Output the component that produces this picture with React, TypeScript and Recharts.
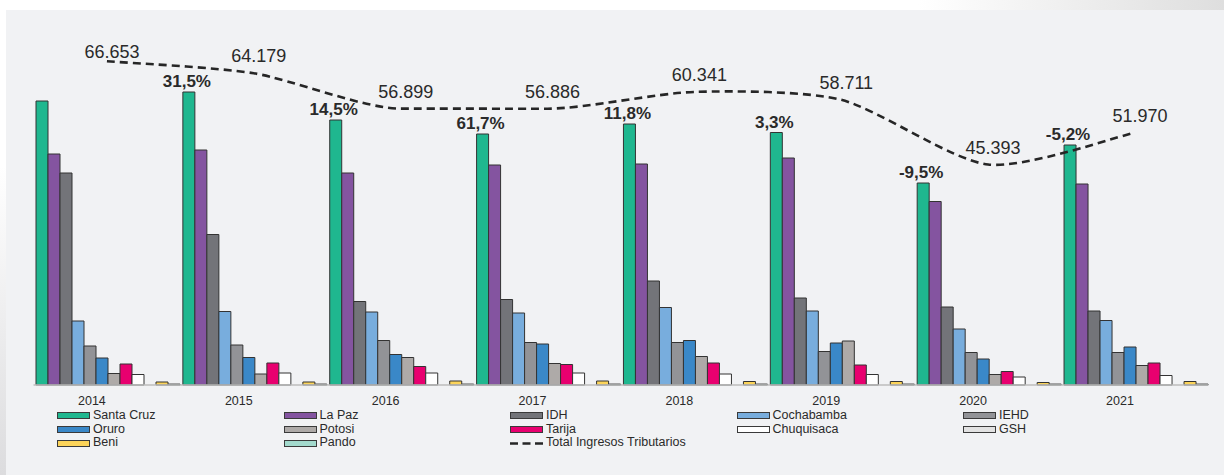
import { Bar, ComposedChart, LabelList, Line, XAxis, YAxis } from "recharts";

// Values. Bars are in an arbitrary unit on their own
// (hidden) axis; the total line has its own axis.
const YEARS = ["2014", "2015", "2016", "2017", "2018", "2019", "2020", "2021"];
const SANTA_CRUZ = [28400, 29300, 26500, 25100, 26100, 25250, 20200, 24000];
const LA_PAZ = [23100, 23500, 21200, 22000, 22100, 22700, 18350, 20100];
const IDH = [21200, 15050, 8350, 8550, 10400, 8700, 7800, 7400];
const COCHABAMBA = [6400, 7350, 7300, 7200, 7750, 7400, 5600, 6450];
const IEHD = [3900, 4000, 4450, 4250, 4250, 3350, 3250, 3250];
const ORURO = [2700, 2750, 3050, 4100, 4450, 4200, 2600, 3800];
const POTOSI = [1150, 1100, 2750, 2150, 2850, 4400, 1050, 1950];
const TARIJA = [2100, 2200, 1850, 2050, 2200, 2000, 1350, 2200];
const CHUQUISACA = [1050, 1200, 1200, 1200, 1100, 1050, 800, 950];
const GSH = [0, 0, 0, 0, 0, 0, 0, 0];
const BENI = [300, 300, 400, 400, 350, 350, 250, 350];
const PANDO = [90, 90, 90, 90, 90, 90, 90, 90];
const TOTAL = [66653, 64179, 56899, 56886, 60341, 58711, 45393, 51970];
const PCT = ["", "31,5%", "14,5%", "61,7%", "11,8%", "3,3%", "-9,5%", "-5,2%"];

const SERIES = [
  { key: "santaCruz", name: "Santa Cruz", color: "#1fb78f", values: SANTA_CRUZ },
  { key: "laPaz", name: "La Paz", color: "#8454a0", values: LA_PAZ },
  { key: "idh", name: "IDH", color: "#737479", values: IDH },
  { key: "cochabamba", name: "Cochabamba", color: "#78addd", values: COCHABAMBA },
  { key: "iehd", name: "IEHD", color: "#929397", values: IEHD },
  { key: "oruro", name: "Oruro", color: "#3a88c8", values: ORURO },
  { key: "potosi", name: "Potosi", color: "#aeaaa8", values: POTOSI },
  { key: "tarija", name: "Tarija", color: "#e8006f", values: TARIJA },
  { key: "chuquisaca", name: "Chuquisaca", color: "#ffffff", values: CHUQUISACA },
  { key: "gsh", name: "GSH", color: "#e2e2e2", values: GSH },
  { key: "beni", name: "Beni", color: "#fcd459", values: BENI },
  { key: "pando", name: "Pando", color: "#a3dacd", values: PANDO },
];

const data = YEARS.map((year, i) => {
  const row: Record<string, string | number> = {
    year,
    total: TOTAL[i],
    pct: PCT[i],
  };
  SERIES.forEach((s) => {
    row[s.key] = s.values[i];
  });
  return row;
});

const FONT = "'Liberation Sans', Arial, sans-serif";
const TEXT = "#2a2a2a";

const fmtThousands = (v: number) =>
  String(v).replace(/\B(?=(\d{3})+(?!\d))/g, ".");

// Lightly smoothed line: short Catmull-Rom tangents, flattened next to flat
// stretches so it doesn't overshoot there.
function lightSmooth(context: any) {
  let pts: number[][] = [];
  const tangent = (i: number) => {
    const p0 = pts[i - 1] || pts[i];
    const p1 = pts[i];
    const p2 = pts[i + 1] || pts[i];
    const tx = (p2[0] - p0[0]) / 8;
    let ty = (p2[1] - p0[1]) / 8;
    if (pts[i - 1] && pts[i + 1]) {
      const a = p1[1] - p0[1];
      const b = p2[1] - p1[1];
      if (Math.abs(a) < 2 || Math.abs(b) < 2) ty = 0;
    }
    return [tx, ty];
  };
  return {
    areaStart() {},
    areaEnd() {},
    lineStart() {
      pts = [];
    },
    point(x: number, y: number) {
      pts.push([+x, +y]);
    },
    lineEnd() {
      if (!pts.length) return;
      context.moveTo(pts[0][0], pts[0][1]);
      for (let i = 0; i < pts.length - 1; i++) {
        const t1 = tangent(i);
        const t2 = tangent(i + 1);
        context.bezierCurveTo(
          pts[i][0] + t1[0],
          pts[i][1] + t1[1],
          pts[i + 1][0] - t2[0],
          pts[i + 1][1] - t2[1],
          pts[i + 1][0],
          pts[i + 1][1]
        );
      }
    },
  };
}

function YearTick(props: any) {
  const { x, y, payload } = props;
  return (
    <text
      x={x - 15}
      y={y + 12}
      textAnchor="middle"
      fontSize={12.5}
      fontFamily={FONT}
      fill={TEXT}
    >
      {payload.value}
    </text>
  );
}

function PctLabel(props: any) {
  const { x, y, width, value } = props;
  if (!value) return null;
  return (
    <text
      x={x + width / 2 - 2}
      y={y - 5}
      textAnchor="middle"
      fontSize={17}
      fontWeight="bold"
      fontFamily={FONT}
      fill={TEXT}
    >
      {value}
    </text>
  );
}

function TotalLabel(props: any) {
  const { x, y, value, index } = props;
  // the first label sits a little closer to the line in the original
  const lift = index === 0 ? 3 : 11;
  return (
    <text
      x={x + 5}
      y={y - lift}
      textAnchor="middle"
      fontSize={18}
      fontFamily={FONT}
      fill={TEXT}
    >
      {fmtThousands(value)}
    </text>
  );
}

// legend laid out like the Excel original: 5 columns, 3 rows
const LEGEND_ITEMS = [
  ...SERIES.map((s) => ({ name: s.name, color: s.color, dashed: false })),
  { name: "Total Ingresos Tributarios", color: "#262626", dashed: true },
];

function ChartLegend() {
  return (
    <div
      style={{
        position: "absolute",
        left: 57,
        top: 409,
        display: "grid",
        gridTemplateColumns: "repeat(5, 226.5px)",
        gridAutoRows: "13.7px",
        fontFamily: FONT,
        fontSize: 12.5,
        color: TEXT,
        lineHeight: "13.7px",
      }}
    >
      {LEGEND_ITEMS.map((item) => (
        <div
          key={item.name}
          style={{ display: "flex", alignItems: "center", whiteSpace: "nowrap" }}
        >
          {item.dashed ? (
            <svg width={33} height={7} style={{ marginRight: 3 }}>
              <line
                x1={0}
                y1={3.5}
                x2={33}
                y2={3.5}
                stroke={item.color}
                strokeWidth={2.6}
                strokeDasharray="8 4.5"
              />
            </svg>
          ) : (
            <span
              style={{
                display: "inline-block",
                width: 31,
                height: 5,
                background: item.color,
                border: "1px solid #3a3a3a",
                marginRight: 3,
              }}
            />
          )}
          <span>{item.name}</span>
        </div>
      ))}
    </div>
  );
}

export default function App() {
  return (
    <div
      style={{
        position: "absolute",
        left: 0,
        top: 0,
        width: 1224,
        height: 475,
        background: "#ffffff",
        overflow: "hidden",
      }}
    >
      {/* page edges around the panel */}
      <div
        style={{
          position: "absolute",
          left: 0,
          top: 0,
          width: 6,
          height: 475,
          background: "linear-gradient(to bottom, #ffffff 0%, #ffffff 35%, #dcdcde 100%)",
        }}
      />
      <div
        style={{
          position: "absolute",
          left: 0,
          top: 0,
          width: 1224,
          height: 10,
          background: "linear-gradient(to right, #ffffff 0%, #ffffff 75%, #dedede 100%)",
        }}
      />
      <div
        style={{
          position: "absolute",
          left: 6,
          top: 10,
          width: 1218,
          height: 465,
          background: "#f1f2f4",
        }}
      />
      <div style={{ position: "absolute", left: 0, top: 0 }}>
        <ComposedChart
          width={1224}
          height={475}
          data={data}
          margin={{ top: 45, right: 15.6, left: 33.5, bottom: 70 }}
          barCategoryGap={2.5}
          barGap={0}
        >
          <XAxis
            dataKey="year"
            height={20}
            axisLine={{ stroke: "#bdbdbd", strokeWidth: 1.5 }}
            tickLine={false}
            tick={<YearTick />}
            interval={0}
          />
          <YAxis yAxisId="bars" hide domain={[0, 34000]} />
          <YAxis yAxisId="line" hide domain={[0, 70000]} />
          {SERIES.map((s) => (
            <Bar
              key={s.key}
              yAxisId="bars"
              dataKey={s.key}
              name={s.name}
              fill={s.color}
              stroke="#333333"
              strokeWidth={1}
              isAnimationActive={false}
            >
              {s.key === "santaCruz" && (
                <LabelList dataKey="pct" content={<PctLabel />} />
              )}
            </Bar>
          ))}
          <Line
            yAxisId="line"
            type={lightSmooth as any}
            dataKey="total"
            name="Total Ingresos Tributarios"
            stroke="#262626"
            strokeWidth={2.6}
            strokeDasharray="8 5"
            dot={false}
            activeDot={false}
            isAnimationActive={false}
          >
            <LabelList dataKey="total" content={<TotalLabel />} />
          </Line>
        </ComposedChart>
      </div>
      <ChartLegend />
    </div>
  );
}
